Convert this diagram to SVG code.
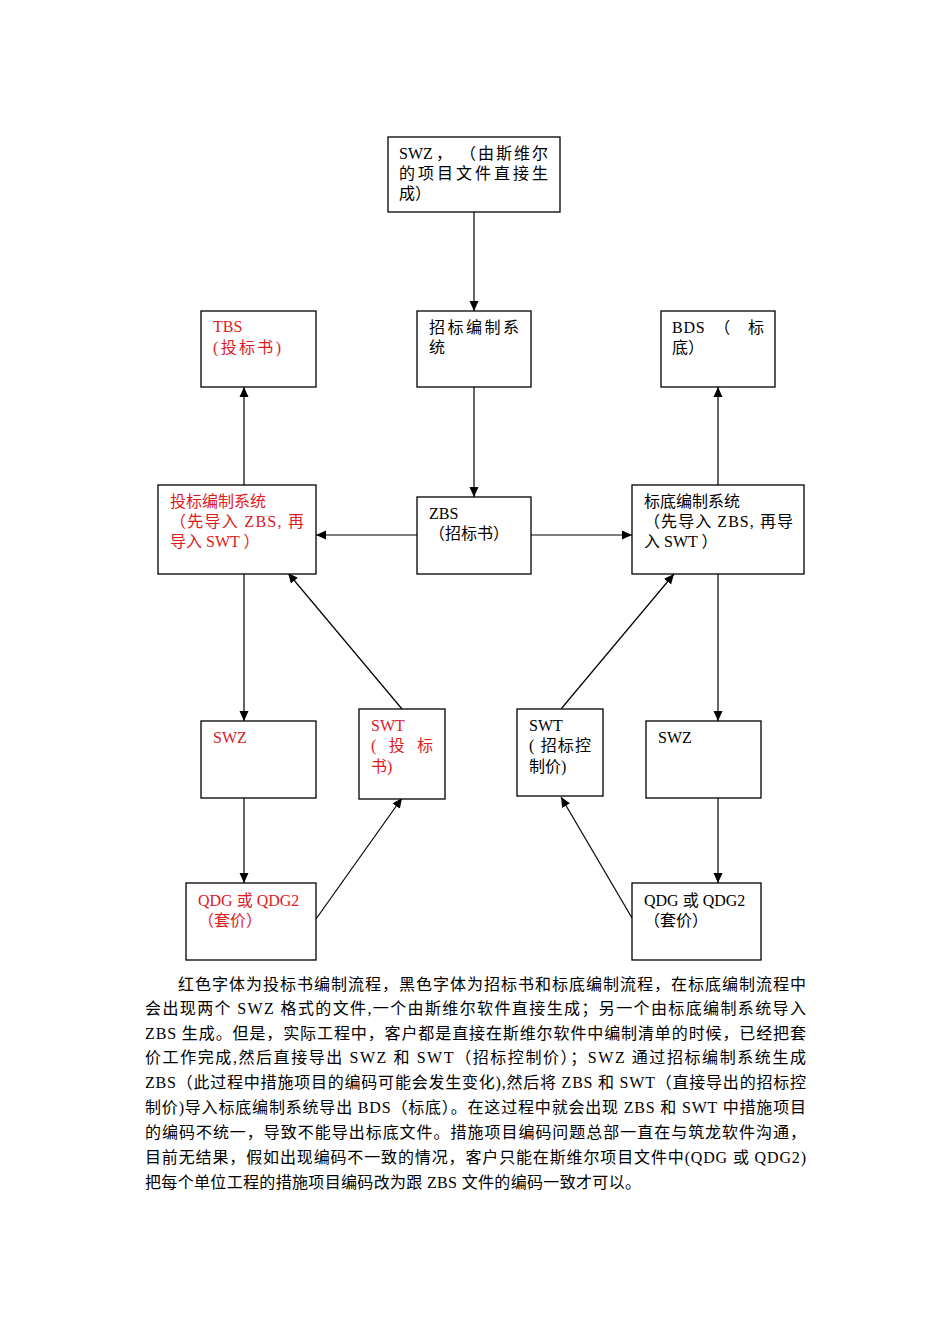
<svg xmlns="http://www.w3.org/2000/svg" width="950" height="1344" viewBox="0 0 950 1344">
<style>
.box{fill:#fff;stroke:#000;stroke-width:1.3}
text{font-family:"Liberation Serif","Noto Sans CJK SC",serif;font-size:16px;fill:#000}
.r{fill:#e0191e}
.ln{stroke:#000;stroke-width:1.2;fill:none}
</style>
<defs>
<marker id="ah" markerUnits="userSpaceOnUse" markerWidth="10" markerHeight="10" refX="10" refY="5" orient="auto">
<path d="M0,0.5 L10,5 L0,9.5 z" fill="#000"/>
</marker>
</defs>
<rect width="950" height="1344" fill="#fff"/>

<g id="connectors">
<line class="ln" x1="474" y1="212" x2="474" y2="311" marker-end="url(#ah)"/>
<line class="ln" x1="474" y1="387" x2="474" y2="497" marker-end="url(#ah)"/>
<line class="ln" x1="417" y1="535" x2="316" y2="535" marker-end="url(#ah)"/>
<line class="ln" x1="531" y1="535" x2="632" y2="535" marker-end="url(#ah)"/>
<line class="ln" x1="244" y1="493" x2="244" y2="387" marker-end="url(#ah)"/>
<line class="ln" x1="718" y1="485" x2="718" y2="387" marker-end="url(#ah)"/>
<line class="ln" x1="244" y1="574" x2="244" y2="721" marker-end="url(#ah)"/>
<line class="ln" x1="244" y1="798" x2="244" y2="883" marker-end="url(#ah)"/>
<line class="ln" x1="718" y1="574" x2="718" y2="721" marker-end="url(#ah)"/>
<line class="ln" x1="718" y1="798" x2="718" y2="883" marker-end="url(#ah)"/>
<line class="ln" x1="316" y1="919" x2="402" y2="798" marker-end="url(#ah)"/>
<line class="ln" x1="402" y1="709" x2="288" y2="573" marker-end="url(#ah)"/>
<line class="ln" x1="561" y1="709" x2="674" y2="574" marker-end="url(#ah)"/>
<line class="ln" x1="632" y1="918" x2="561" y2="797" marker-end="url(#ah)"/>
</g>

<g id="n_swz_top">
<rect class="box" x="388" y="137" width="172" height="75"/>
<text x="399" y="159">SWZ</text>
<text x="436" y="159">，</text>
<text x="460" y="159" textLength="88" lengthAdjust="spacing">（由斯维尔</text>
<text x="399" y="179" textLength="149" lengthAdjust="spacing">的项目文件直接生</text>
<text x="399" y="199">成）</text>
</g>

<g id="n_zbbz">
<rect class="box" x="417" y="311" width="114" height="76"/>
<text x="429" y="333" textLength="90" lengthAdjust="spacing">招标编制系</text>
<text x="429" y="353">统</text>
</g>

<g id="n_tbs">
<rect class="box" x="201" y="311" width="115" height="76"/>
<text class="r" x="213" y="332">TBS</text>
<text class="r" x="213" y="353" textLength="68" lengthAdjust="spacing">(投标书)</text>
</g>

<g id="n_bds">
<rect class="box" x="661" y="311" width="114" height="76"/>
<text x="672" y="333" textLength="92" lengthAdjust="spacing">BDS　（　标</text>
<text x="672" y="353">底）</text>
</g>

<g id="n_tbbz">
<rect class="box" x="158" y="485" width="158" height="89"/>
<text class="r" x="170" y="507">投标编制系统</text>
<text class="r" x="170" y="527" textLength="134" lengthAdjust="spacing">（先导入 ZBS, 再</text>
<text class="r" x="170" y="547">导入 SWT ）</text>
</g>

<g id="n_zbs">
<rect class="box" x="417" y="497" width="114" height="77"/>
<text x="429" y="519">ZBS</text>
<text x="429" y="539">（招标书）</text>
</g>

<g id="n_bdbz">
<rect class="box" x="632" y="485" width="172" height="89"/>
<text x="644" y="507">标底编制系统</text>
<text x="644" y="527" textLength="149" lengthAdjust="spacing">（先导入 ZBS, 再导</text>
<text x="644" y="547">入 SWT ）</text>
</g>

<g id="n_swz_red">
<rect class="box" x="201" y="721" width="115" height="77"/>
<text class="r" x="213" y="743">SWZ</text>
</g>

<g id="n_swt_red">
<rect class="box" x="359" y="709" width="86" height="90"/>
<text class="r" x="371" y="731">SWT</text>
<text class="r" x="371" y="751" textLength="62" lengthAdjust="spacing">(　投　标</text>
<text class="r" x="371" y="772">书)</text>
</g>

<g id="n_swt_black">
<rect class="box" x="517" y="709" width="86" height="87"/>
<text x="529" y="731">SWT</text>
<text x="529" y="751" textLength="62" lengthAdjust="spacing">( 招标控</text>
<text x="529" y="772">制价)</text>
</g>

<g id="n_swz_black">
<rect class="box" x="646" y="721" width="115" height="77"/>
<text x="658" y="743">SWZ</text>
</g>

<g id="n_qdg_red">
<rect class="box" x="186" y="883" width="130" height="77"/>
<text class="r" x="198" y="906">QDG 或 QDG2</text>
<text class="r" x="198" y="926">（套价）</text>
</g>

<g id="n_qdg_black">
<rect class="box" x="632" y="883" width="129" height="77"/>
<text x="644" y="906">QDG 或 QDG2</text>
<text x="644" y="926">（套价）</text>
</g>

<g id="paragraph">
<text x="178" y="990" textLength="628" lengthAdjust="spacing">红色字体为投标书编制流程，黑色字体为招标书和标底编制流程，在标底编制流程中</text>
<text x="145" y="1014" textLength="661" lengthAdjust="spacing">会出现两个 SWZ 格式的文件,一个由斯维尔软件直接生成；另一个由标底编制系统导入</text>
<text x="145" y="1039" textLength="661" lengthAdjust="spacing">ZBS 生成。但是，实际工程中，客户都是直接在斯维尔软件中编制清单的时候，已经把套</text>
<text x="145" y="1063" textLength="661" lengthAdjust="spacing">价工作完成,然后直接导出 SWZ 和 SWT（招标控制价）；SWZ 通过招标编制系统生成</text>
<text x="145" y="1088" textLength="661" lengthAdjust="spacing">ZBS（此过程中措施项目的编码可能会发生变化),然后将 ZBS 和 SWT（直接导出的招标控</text>
<text x="145" y="1113" textLength="661" lengthAdjust="spacing">制价)导入标底编制系统导出 BDS（标底）。在这过程中就会出现 ZBS 和 SWT 中措施项目</text>
<text x="145" y="1138" textLength="661" lengthAdjust="spacing">的编码不统一，导致不能导出标底文件。措施项目编码问题总部一直在与筑龙软件沟通，</text>
<text x="145" y="1163" textLength="661" lengthAdjust="spacing">目前无结果，假如出现编码不一致的情况，客户只能在斯维尔项目文件中(QDG 或 QDG2)</text>
<text x="145" y="1188" textLength="496" lengthAdjust="spacing">把每个单位工程的措施项目编码改为跟 ZBS 文件的编码一致才可以。</text>
</g>
</svg>
